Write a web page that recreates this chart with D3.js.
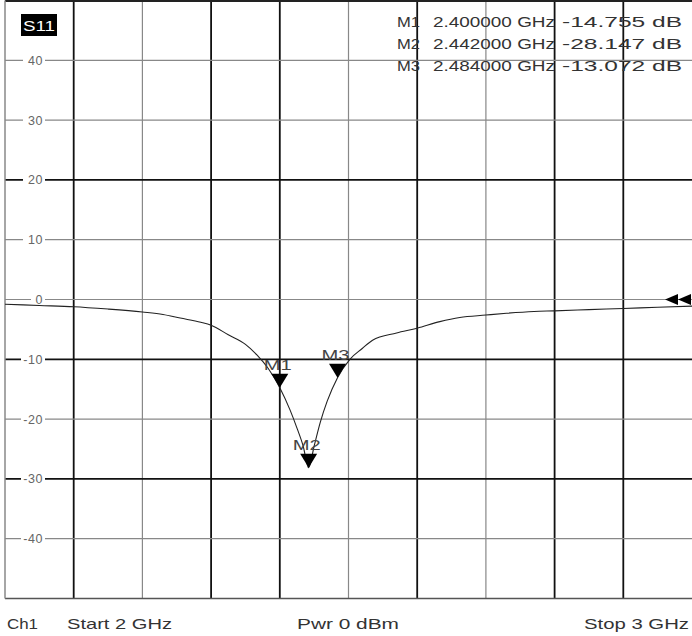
<!DOCTYPE html>
<html><head><meta charset="utf-8">
<script src="https://cdn.jsdelivr.net/npm/d3@7"></script>
<style>
html,body{margin:0;padding:0;background:#fff;}
svg{display:block;font-family:"Liberation Sans",Arial,sans-serif;}
</style></head>
<body>
<svg id="c" width="692" height="636"></svg>
<script>
// ---- data ----
const freqGHz = [2.00, 2.05, 2.10, 2.15, 2.20, 2.23, 2.255, 2.285, 2.30, 2.325, 2.35, 2.367, 2.383, 2.40, 2.415, 2.425, 2.434, 2.442, 2.45, 2.459, 2.469, 2.484, 2.502, 2.52, 2.535, 2.57, 2.60, 2.633, 2.662, 2.70, 2.73, 2.77, 2.80, 2.85, 2.90, 2.95, 3.00];
const s11dB   = [-0.8, -1.0, -1.2, -1.6, -2.1, -2.5, -3.1, -3.8, -4.3, -5.9, -7.5, -9.3, -11.5, -14.755, -18.5, -21.5, -24.5, -28.147, -24.5, -20.5, -17.0, -13.072, -10.0, -8.2, -6.8, -5.6, -4.8, -3.7, -3.0, -2.6, -2.3, -2.0, -1.9, -1.7, -1.5, -1.3, -1.1];
const markerNames  = ["M1", "M2", "M3"];
const markerFreqs  = [2.400000, 2.442000, 2.484000];
const markerValues = [-14.755, -28.147, -13.072];
const yTickValues  = [40, 30, 20, 10, 0, -10, -20, -30, -40];
const xGridFreqs   = [2.1, 2.2, 2.3, 2.4, 2.5, 2.6, 2.7, 2.8, 2.9];
const traceName    = "S11";
const footerTexts  = ["Ch1", "Start 2 GHz", "Pwr 0 dBm", "Stop 3 GHz"];
const refLevel     = 0;

// ---- scales ----
const svg = d3.select("#c");
const x = d3.scaleLinear().domain([2, 3]).range([5, 692]);
const y = d3.scaleLinear().domain([-50, 50]).range([598.5, 0.5]);

const heavyX = new Set([0, 2, 3, 5, 7, 8]);
const heavyY = new Set([20, -10, -30]);

const g = svg.append("g");

// vertical grid
g.selectAll("line.vg").data(xGridFreqs).join("line")
  .attr("x1", d => x(d)).attr("x2", d => x(d))
  .attr("y1", y(50)).attr("y2", y(-50))
  .attr("stroke", (d, i) => heavyX.has(i) ? "#111" : "#888")
  .attr("stroke-width", (d, i) => heavyX.has(i) ? 1.8 : 1.2);

// horizontal grid
g.selectAll("line.hg").data(yTickValues).join("line")
  .attr("x1", x(2)).attr("x2", 692)
  .attr("y1", d => y(d)).attr("y2", d => y(d))
  .attr("stroke", d => heavyY.has(d) ? "#111" : "#888")
  .attr("stroke-width", d => heavyY.has(d) ? 1.8 : 1.2);

// borders
g.append("line").attr("x1", x(2)).attr("x2", 692).attr("y1", y(50)+0.5).attr("y2", y(50)+0.5).attr("stroke", "#222").attr("stroke-width", 2);
g.append("line").attr("x1", x(2)).attr("x2", 692).attr("y1", y(-50)).attr("y2", y(-50)).attr("stroke", "#555").attr("stroke-width", 1.5);
g.append("line").attr("x1", x(2)).attr("x2", x(2)).attr("y1", y(50)).attr("y2", y(-50)).attr("stroke", "#888").attr("stroke-width", 1.5);

// y tick labels with white gap
const yl = g.selectAll("g.yl").data(yTickValues).join("g")
  .attr("transform", d => `translate(43,${y(d)})`);
yl.append("rect").attr("x", d => d < 0 ? -22 : (Math.abs(d) >= 10 ? -20 : -12)).attr("y", -6)
  .attr("width", d => d < 0 ? 24 : (Math.abs(d) >= 10 ? 22 : 14)).attr("height", 12).attr("fill", "#fff");
yl.append("text").attr("text-anchor", "end").attr("dy", "0.36em")
  .attr("font-size", 12.5).attr("fill", "#666").attr("letter-spacing", 0.6)
  .text(d => d);

// trace
const line = d3.line().x((d, i) => x(freqGHz[i])).y(d => y(d)).curve(d3.curveMonotoneX);
g.append("path").datum(s11dB).attr("d", line)
  .attr("fill", "none").attr("stroke", "#222").attr("stroke-width", 1.1);

// markers
const mk = g.selectAll("g.mk").data(markerNames).join("g")
  .attr("transform", (d, i) => `translate(${x(markerFreqs[i])},${y(markerValues[i])})`);
mk.append("path").attr("d", "M0,0 L-8.5,-14 L8.5,-14 Z").attr("fill", "#000");
mk.append("text").attr("x", -16).attr("y", -18)
  .attr("font-size", 14).attr("fill", "#444").attr("textLength", 28).attr("lengthAdjust", "spacingAndGlyphs")
  .text(d => d);

// reference level arrows
const ra = g.append("g").attr("transform", `translate(665,${y(refLevel)})`);
ra.append("path").attr("d", "M0,0 L13,-5.5 L13,5.5 Z").attr("fill", "#000");
ra.append("path").attr("d", "M13,0 L26,-5.5 L26,5.5 Z").attr("fill", "#000");

// trace name box
g.append("rect").attr("x", 21).attr("y", 14).attr("width", 36).attr("height", 22).attr("fill", "#000");
g.append("text").attr("x", 23).attr("y", 31)
  .attr("font-size", 15).attr("fill", "#fff").attr("textLength", 32).attr("lengthAdjust", "spacingAndGlyphs").text(traceName);

// marker readout
const rd = g.selectAll("g.rd").data(markerNames).join("g")
  .attr("transform", (d, i) => `translate(0,${26.5 + i * 22.3})`);
const rdStyle = s => s.attr("font-size", 14).attr("fill", "#333").attr("lengthAdjust", "spacingAndGlyphs");
rd.append("text").attr("x", 397).attr("textLength", 23).call(rdStyle).text(d => d);
rd.append("text").attr("x", 433).attr("textLength", 122).call(rdStyle).text((d, i) => markerFreqs[i].toFixed(6) + " GHz");
rd.append("text").attr("x", 562).attr("textLength", 120).call(rdStyle).text((d, i) => markerValues[i].toFixed(3) + " dB");

// footer
const fx = [7, 67, 297, 584];
const fw = [31, 105, 102, 105];
g.selectAll("text.ft").data(footerTexts).join("text")
  .attr("x", (d, i) => fx[i]).attr("y", 629)
  .attr("textLength", (d, i) => fw[i]).attr("lengthAdjust", "spacingAndGlyphs")
  .attr("font-size", 14.5).attr("fill", "#333")
  .text(d => d);
</script>
</body></html>
